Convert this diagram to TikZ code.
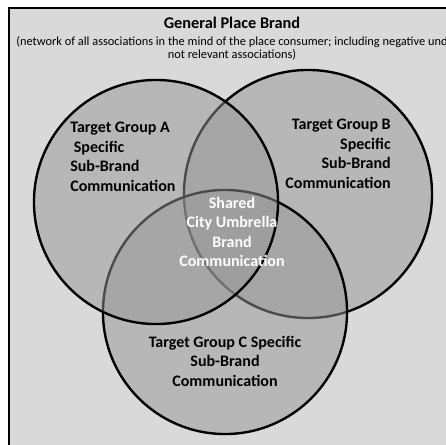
\documentclass[tikz,border=0pt]{standalone}
\usepackage{fontspec}
\setmainfont{Carlito}
\usetikzlibrary{positioning}
\definecolor{PanelGray}{HTML}{D9D9D9}
\definecolor{SetGray}{HTML}{979797}

\tikzset{
  setcircle/.style={circle, draw=black, line width=1.7pt, fill=SetGray, fill opacity=0.5, inner sep=0pt},
  grouplabel/.style={font=\fontsize{11.4}{13.9}\selectfont\bfseries, inner sep=0pt},
}

\begin{document}
\begin{tikzpicture}[x=0.025cm, y=-0.025cm]
  \useasboundingbox (0,0) rectangle (446,445);
  \clip (0,0) rectangle (446,445);
  % panel
  \draw[fill=PanelGray, line width=1.5pt] (9,8) rectangle (480,480);
  \node[font=\fontsize{11.6}{14}\selectfont\bfseries, inner sep=0pt] (title) at (232,23) {General Place Brand};
  \node[font=\fontsize{8.8}{9.3}\selectfont, align=center, inner sep=0pt] (subtitle) at (232,48.5)
    {(network of all associations in the mind of the place consumer; including negative und\\not relevant associations)};

  % sets (B first, A on top)
  \node[setcircle, minimum size=6.2cm] (setB) at (308,194) {};
  \node[setcircle, minimum size=6.1cm] (setC) at (225,312) {};
  \node[setcircle, minimum size=6.1cm] (setA) at (156,202) {};

  % labels
  \node[grouplabel, align=left, anchor=west] (labelA) at (70,157)
    {Target Group A\\\ Specific\\Sub-Brand\\Communication};
  \node[grouplabel, align=right, anchor=east] (labelB) at (391,154)
    {Target Group B\\Specific\\Sub-Brand\\Communication};
  \node[grouplabel, align=center, text=white] (shared) at (232,232)
    {Shared\\City Umbrella\\Brand\\Communication};
  \node[grouplabel, align=center] (labelC) at (225,361)
    {Target Group C Specific\\Sub-Brand\\Communication};
\end{tikzpicture}
\end{document}
